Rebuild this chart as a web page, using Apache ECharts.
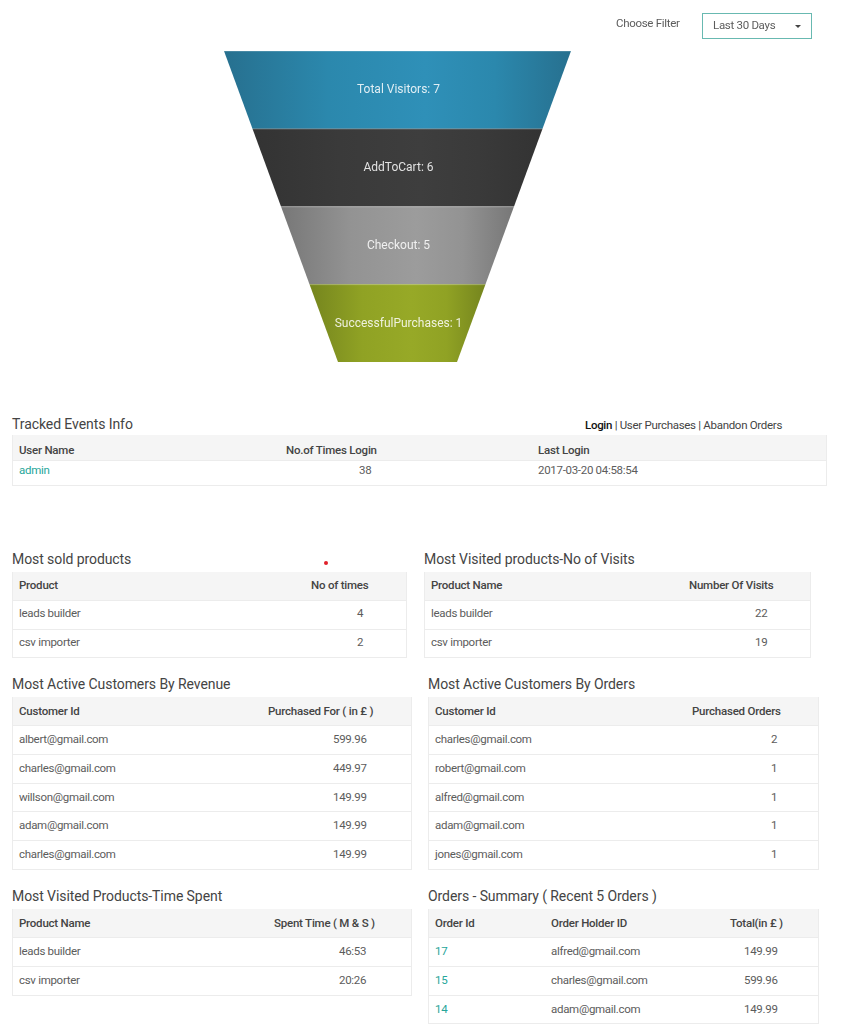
<!DOCTYPE html>
<html>
<head>
<meta charset="utf-8">
<title>Dashboard</title>
<script src="https://cdn.jsdelivr.net/npm/echarts@6/dist/echarts.min.js"></script>
<style>
  html, body { margin: 0; padding: 0; background: #fff; }
  body { position: relative; width: 846px; height: 1024px; overflow: hidden; font-family: Roboto, sans-serif; color: #5c5c5c; font-size: 11.5px; letter-spacing: -0.3px; }
  #funnel { position: absolute; left: 0; top: 0; width: 846px; height: 400px; letter-spacing: 0; }
  .abs { position: absolute; white-space: nowrap; }
  .title { position: absolute; font-size: 14px; letter-spacing: -0.08px; line-height: 18px; color: #444; white-space: nowrap; }
  .panel { position: absolute; box-sizing: border-box; border: 1px solid #ececec; border-top: 0; overflow: hidden; }
  .row { position: relative; box-sizing: border-box; border-top: 1px solid #ececec; }
  .row.head { background: #f5f5f5; font-weight: 500; letter-spacing: -0.22px; color: #444; border-top: 0; }
  .cell { position: absolute; top: 0; white-space: nowrap; }
  .link { color: #26a69a; }
</style>
</head>
<body>
<div id="funnel"></div>

<div class="abs" style="left:616px;top:16px;line-height:15px">Choose Filter</div>
<div class="abs" style="left:702px;top:12.5px;width:110px;height:26px;box-sizing:border-box;border:1.5px solid #68b9b1;line-height:23px;padding-left:10px">Last 30 Days
  <span class="abs" style="left:92px;top:11px;width:0;height:0;border-left:3px solid transparent;border-right:3px solid transparent;border-top:3px solid #444"></span>
</div>
<div class="abs" style="left:585px;top:418px;line-height:15px;color:#444"><b style="font-weight:500;color:#111">Login</b> | User Purchases | Abandon Orders</div>
<div class="abs" style="left:324px;top:561px;width:4px;height:4px;border-radius:2px;background:#e0202a"></div>

<script>
// funnel
var stageNames = ['Total Visitors', 'AddToCart', 'Checkout', 'SuccessfulPurchases'];
var stageCounts = [7, 6, 5, 1];
var stageEdge = ['#27708f', '#333333', '#777777', '#75851e'];
var stageNear = ['#2b88ad', '#3a3a3a', '#939393', '#90a224'];
var stageMid = ['#2f90b8', '#3e3e3e', '#9c9c9c', '#97a927'];
// neck width as a share of the mouth width
var neckRatio = 0.343;

// tables
var loginUsers = ['admin'];
var loginTimes = ['38'];
var loginLast = ['2017-03-20 04:58:54'];

var soldNames = ['leads builder', 'csv importer'];
var soldTimes = ['4', '2'];

var visitNames = ['leads builder', 'csv importer'];
var visitCounts = ['22', '19'];

var revenueCustomers = ['albert@gmail.com', 'charles@gmail.com', 'willson@gmail.com', 'adam@gmail.com', 'charles@gmail.com'];
var revenueAmounts = ['599.96', '449.97', '149.99', '149.99', '149.99'];

var orderCustomers = ['charles@gmail.com', 'robert@gmail.com', 'alfred@gmail.com', 'adam@gmail.com', 'jones@gmail.com'];
var orderCounts = ['2', '1', '1', '1', '1'];

var spentNames = ['leads builder', 'csv importer'];
var spentTimes = ['46:53', '20:26'];

var recentIds = ['17', '15', '14'];
var recentHolders = ['alfred@gmail.com', 'charles@gmail.com', 'adam@gmail.com'];
var recentTotals = ['149.99', '599.96', '149.99'];

var chart = echarts.init(document.getElementById('funnel'));

function renderStage(params, api) {
  var count = api.value(0);
  var idx = api.value(1);
  var total = stageNames.length;
  var half = function (t) { return 1 - t * (1 - neckRatio); };
  var mid = api.coord([0, idx]);
  var bandH = api.size([0, 1])[1];
  var yTop = mid[1] - bandH / 2;
  var yBottom = mid[1] + bandH / 2;
  var topL = api.coord([-half(idx / total), idx])[0];
  var topR = api.coord([half(idx / total), idx])[0];
  var botL = api.coord([-half((idx + 1) / total), idx])[0];
  var botR = api.coord([half((idx + 1) / total), idx])[0];
  return {
    type: 'group',
    children: [
      {
        type: 'polygon',
        shape: { points: [[topL, yTop], [topR, yTop], [botR, yBottom], [botL, yBottom]] },
        style: {
          fill: new echarts.graphic.LinearGradient(0, 0, 1, 0, [
            { offset: 0, color: stageEdge[idx] },
            { offset: 0.3, color: stageNear[idx] },
            { offset: 0.58, color: stageMid[idx] },
            { offset: 0.78, color: stageNear[idx] },
            { offset: 1, color: stageEdge[idx] }
          ])
        }
      },
      {
        type: 'line',
        shape: { x1: topL, y1: yTop + 0.5, x2: topR, y2: yTop + 0.5 },
        style: { stroke: 'rgba(255,255,255,0.15)', lineWidth: 1 }
      },
      {
        type: 'text',
        style: {
          x: mid[0] + 1,
          y: mid[1] + 0.5,
          text: stageNames[idx] + ': ' + count,
          fill: 'rgba(255,255,255,0.85)',
          font: '12px Roboto',
          align: 'center',
          verticalAlign: 'middle'
        }
      }
    ]
  };
}

chart.setOption({
  animation: false,
  grid: { left: 224, top: 51, width: 347, height: 311 },
  xAxis: { type: 'value', min: -1, max: 1, show: false },
  yAxis: { type: 'category', data: stageNames, inverse: true, show: false },
  series: [{
    type: 'custom',
    renderItem: renderStage,
    data: stageCounts.map(function (c, i) { return [c, stageNames[i]]; })
  }]
});

function addTitle(text, x, y) {
  var t = document.createElement('div');
  t.className = 'title';
  t.style.left = x + 'px';
  t.style.top = (y - 9) + 'px';
  t.textContent = text;
  document.body.appendChild(t);
}

// cols are [header, header x, body x, values, isLink]
function addTable(cfg) {
  addTitle(cfg.title, cfg.x, cfg.titleY);
  var panel = document.createElement('div');
  panel.className = 'panel';
  panel.style.left = cfg.x + 'px';
  panel.style.top = cfg.y + 'px';
  panel.style.width = cfg.w + 'px';

  function addRow(h, head, rowIdx) {
    var row = document.createElement('div');
    row.className = head ? 'row head' : 'row';
    row.style.height = h + 'px';
    cfg.cols.forEach(function (c) {
      var cell = document.createElement('span');
      cell.className = 'cell';
      cell.style.left = (head ? c[1] : c[2]) + 'px';
      cell.style.top = (head ? (cfg.headShift || 0) : (cfg.rowShift || 0)) + 'px';
      cell.style.lineHeight = (h - (head ? 0 : 1)) + 'px';
      cell.textContent = head ? c[0] : c[3][rowIdx];
      if (!head && c[4]) cell.classList.add('link');
      row.appendChild(cell);
    });
    panel.appendChild(row);
  }

  addRow(cfg.headH, true);
  cfg.cols[0][3].forEach(function (v, i) { addRow(cfg.rowH, false, i); });
  document.body.appendChild(panel);
}

addTable({ title: 'Tracked Events Info', x: 12, titleY: 424, y: 435, w: 815, headH: 25, rowH: 25, headShift: 3, rowShift: -3, cols: [
  ['User Name', 6, 6, loginUsers, true],
  ['No.of Times Login', 273, 346, loginTimes],
  ['Last Login', 525, 525, loginLast]
]});
addTable({ title: 'Most sold products', x: 12, titleY: 558.5, y: 572, w: 395, headH: 28, rowH: 28.7, headShift: -1, rowShift: -1, cols: [
  ['Product', 6, 6, soldNames],
  ['No of times', 298, 344, soldTimes]
]});
addTable({ title: 'Most Visited products-No of Visits', x: 424, titleY: 558.5, y: 572, w: 387, headH: 28, rowH: 28.7, headShift: -1, rowShift: -1, cols: [
  ['Product Name', 6, 6, visitNames],
  ['Number Of Visits', 264, 330, visitCounts]
]});
addTable({ title: 'Most Active Customers By Revenue', x: 12, titleY: 684, y: 697, w: 400, headH: 28, rowH: 28.8, cols: [
  ['Customer Id', 6, 6, revenueCustomers],
  ['Purchased For ( in £ )', 255, 320, revenueAmounts]
]});
addTable({ title: 'Most Active Customers By Orders', x: 428, titleY: 684, y: 697, w: 391, headH: 28, rowH: 28.8, cols: [
  ['Customer Id', 6, 6, orderCustomers],
  ['Purchased Orders', 263, 342, orderCounts]
]});
addTable({ title: 'Most Visited Products-Time Spent', x: 12, titleY: 896, y: 909, w: 400, headH: 28, rowH: 28.8, cols: [
  ['Product Name', 6, 6, spentNames],
  ['Spent Time ( M & S )', 261, 326, spentTimes]
]});
addTable({ title: 'Orders - Summary ( Recent 5 Orders )', x: 428, titleY: 896, y: 909, w: 391, headH: 28, rowH: 28.8, cols: [
  ['Order Id', 6, 6, recentIds, true],
  ['Order Holder ID', 122, 122, recentHolders],
  ['Total(in £ )', 301, 315, recentTotals]
]});
</script>
</body>
</html>
